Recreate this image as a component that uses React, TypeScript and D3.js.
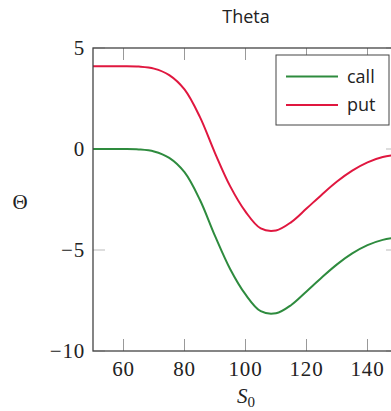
import React, { useEffect, useRef } from 'react'
import * as d3 from 'd3'

// spot prices and theta values
const spots = [50, 55, 60, 65, 70, 75, 80, 85, 90, 95, 100, 105, 110, 115, 120, 125, 130, 135, 140, 145, 150]
const callTheta = [0, 0, 0, -0.02, -0.12, -0.44, -1.15, -2.5, -4.3, -5.95, -7.2, -8.03, -8.13, -7.72, -7.05, -6.36, -5.71, -5.17, -4.76, -4.5, -4.37]
const putTheta = [4.1, 4.1, 4.1, 4.08, 3.98, 3.66, 2.95, 1.6, -0.2, -1.85, -3.1, -3.93, -4.03, -3.62, -2.95, -2.26, -1.61, -1.07, -0.66, -0.4, -0.27]
const xTicks = [60, 80, 100, 120, 140]
const yTicks = [5, 0, -5, -10]

const series = [
  { name: 'call', values: callTheta, color: '#2e8b3e' },
  { name: 'put', values: putTheta, color: '#e0173f' },
]

const width = 391,
      height = 411,
      margin = { left: 93, top: 48, right: -7, bottom: 60 }

const serif = '"Liberation Serif", "DejaVu Serif", serif'
const sans = '"Open Sans", "Noto Sans", sans-serif'

export default function App() {
  const ref = useRef<SVGSVGElement>(null)

  useEffect(() => {
    const svg = d3.select(ref.current)
    svg.selectAll('*').remove()

    const x = d3.scaleLinear().domain([50, 150]).range([margin.left, width - margin.right])
    const y = d3.scaleLinear().domain([-10, 5]).range([height - margin.bottom, margin.top])

    const g = svg.append('g')

    // ticks (inward, on all four sides)
    const tickLen = 12
    xTicks.forEach(t => {
      g.append('line').attr('x1', x(t)).attr('x2', x(t))
        .attr('y1', y(-10)).attr('y2', y(-10) - tickLen)
        .attr('stroke', '#999').attr('stroke-width', 1)
      g.append('line').attr('x1', x(t)).attr('x2', x(t))
        .attr('y1', y(5)).attr('y2', y(5) + tickLen)
        .attr('stroke', '#999').attr('stroke-width', 1)
      g.append('text').attr('x', x(t)).attr('y', y(-10) + 25)
        .attr('text-anchor', 'middle')
        .style('font-family', serif).style('font-size', '21px')
        .style('letter-spacing', '0.8px').attr('fill', '#222')
        .text(t)
    })
    yTicks.forEach(t => {
      g.append('line').attr('x1', x(50)).attr('x2', x(50) + tickLen)
        .attr('y1', y(t)).attr('y2', y(t))
        .attr('stroke', '#bbb').attr('stroke-width', 1)
      g.append('line').attr('x1', x(150)).attr('x2', x(150) - tickLen)
        .attr('y1', y(t)).attr('y2', y(t))
        .attr('stroke', '#bbb').attr('stroke-width', 1)
      g.append('text').attr('x', x(50) - 8).attr('y', y(t) + 7)
        .attr('text-anchor', 'end')
        .style('font-family', serif).style('font-size', '21px')
        .style('letter-spacing', '0.8px').attr('fill', '#222')
        .text(t < 0 ? '\u2212' + Math.abs(t) : String(t))
    })

    // curves
    const line = d3.line<number>()
      .x((d, i) => x(spots[i]))
      .y(d => y(d))
      .curve(d3.curveCatmullRom.alpha(0.5))

    series.forEach(s => {
      g.append('path')
        .attr('d', line(s.values))
        .attr('fill', 'none')
        .attr('stroke', s.color)
        .attr('stroke-width', 2)
    })

    // axis box
    g.append('rect')
      .attr('x', x(50)).attr('y', y(5))
      .attr('width', x(150) - x(50)).attr('height', y(-10) - y(5))
      .attr('fill', 'none').attr('stroke', '#444').attr('stroke-width', 1.3)

    // legend
    const lg = g.append('g').attr('transform', 'translate(276, 55)')
    lg.append('rect').attr('width', 113).attr('height', 70)
      .attr('fill', 'white').attr('stroke', '#444').attr('stroke-width', 1)
    series.forEach((s, i) => {
      const ly = 21.5 + i * 28.5
      lg.append('line').attr('x1', 10).attr('x2', 62).attr('y1', ly).attr('y2', ly)
        .attr('stroke', s.color).attr('stroke-width', 2)
      lg.append('text').attr('x', 71).attr('y', ly + 6)
        .style('font-family', sans).style('font-size', '18px').attr('fill', '#222')
        .text(s.name)
    })

    // title and axis labels
    svg.append('text').attr('x', 246).attr('y', 23).attr('text-anchor', 'middle')
      .style('font-family', sans).style('font-size', '18px').attr('fill', '#222')
      .text('Theta')

    svg.append('text').attr('x', 20).attr('y', 209).attr('text-anchor', 'middle')
      .style('font-family', serif).style('font-size', '21px').attr('fill', '#222')
      .text('Θ')

    const xl = svg.append('text').attr('x', 246).attr('y', 403).attr('text-anchor', 'middle')
      .style('font-family', serif).style('font-size', '21px').attr('fill', '#222')
    xl.append('tspan').style('font-style', 'italic').text('S')
    xl.append('tspan').attr('dy', 3.5).style('font-size', '15px').text('0')
  }, [])

  return (
    <svg ref={ref} width={width} height={height}
      style={{ position: 'absolute', left: 0, top: 0, background: 'white' }} />
  )
}
